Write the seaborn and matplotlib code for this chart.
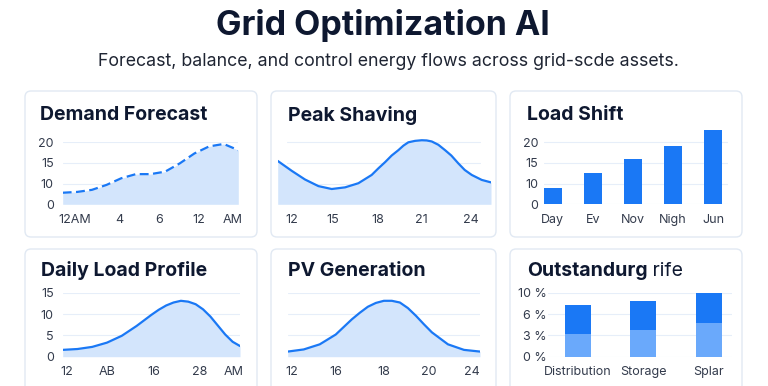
import matplotlib.pyplot as plt
import seaborn as sns
from matplotlib.patches import FancyBboxPatch

# %% data
demand_hours = [0, 2, 4, 6, 8, 10, 12, 14, 16, 18, 20, 22, 24]
demand_vals = [7.8, 8.0, 8.5, 9.7, 11.3, 12.3, 12.3, 12.9, 14.9, 17.3, 19.0, 19.6, 18.1]
demand_ticks = [1.7, 7.7, 13.2, 18.6, 23.2]
demand_ticklabels = ["12AM", "4", "6", "12", "AM"]

peak_hours = [11.06, 12.0, 12.89, 13.79, 14.68, 15.58, 16.47, 17.36, 17.81, 18.26,
              18.7, 19.15, 19.49, 19.82, 20.27, 20.72, 21.05, 21.39, 21.83, 22.28,
              22.7, 23.17, 23.6, 24.07, 24.74, 25.36]
peak_vals = [10.5, 8.1, 6.0, 4.4, 3.7, 4.1, 5.1, 7.1, 8.7, 10.2,
             11.8, 13.1, 14.2, 15.0, 15.35, 15.5, 15.45, 15.2, 14.4, 13.1,
             11.8, 9.9, 8.3, 7.1, 5.9, 5.3]
peak_ticks = [12, 14.75, 17.74, 20.72, 24.0]
peak_ticklabels = ["12", "15", "18", "21", "24"]

shift_cats = ["Day", "Ev", "Nov", "Nigh", "Jun"]
shift_vals = [8.9, 12.5, 16.0, 19.2, 22.9]

daily_hours = [0, 2, 4, 6, 8, 10, 12, 13, 14, 15, 16, 17, 18, 19, 20, 21, 22, 23, 24]
daily_vals = [1.6, 1.8, 2.3, 3.3, 4.9, 7.2, 9.8, 11.0, 12.0, 12.7, 13.1, 12.9, 12.3, 11.1,
              9.4, 7.3, 5.2, 3.5, 2.5]
daily_ticks = [0.54, 6.05, 12.27, 18.5, 23.1]
daily_ticklabels = ["12", "AB", "16", "28", "AM"]

pv_hours = [0, 2, 4, 6, 8, 9, 10, 11, 12, 13, 14, 15, 16, 17, 18, 20, 22, 24]
pv_vals = [1.2, 1.7, 2.9, 5.2, 8.75, 10.3, 11.7, 12.6, 13.1, 13.1, 12.7, 11.4, 9.6,
           7.6, 5.7, 2.9, 1.6, 1.2]
pv_ticks = [0.5, 6.03, 11.94, 17.55, 22.96]
pv_ticklabels = ["12", "16", "18", "20", "24"]

out_cats = ["Distribution", "Storage", "Splar"]
out_total = [7.3, 7.9, 9.0]
out_base = [3.2, 3.75, 4.8]
out_ticks = [0, 3, 6, 9]
out_ticklabels = ["0 %", "3 %", "6 %", "10 %"]

# %% style
BLUE = "#1a78f5"
LIGHT = "#6aa9fb"
FILL = "#d3e5fc"
GRID = "#e6eef9"
DARK = "#0e1830"
TICK = "#333b4c"

sns.set_theme(style="white")
plt.rcParams['font.family'] = ['Inter', 'DejaVu Sans']

W, H = 768, 386
fig = plt.figure(figsize=(W / 100, H / 100), dpi=100)
fig.patch.set_facecolor("white")


def card(x0, y0, x1, y1):
    p = FancyBboxPatch((x0 / 100, (H - y1) / 100), (x1 - x0) / 100, (y1 - y0) / 100,
                       boxstyle="round,pad=0,rounding_size=0.06",
                       transform=fig.dpi_scale_trans, facecolor="white",
                       edgecolor="#e1e9f3", linewidth=1, zorder=-1)
    fig.patches.append(p)


def panel(x0, x1, ytop, ybot):
    ax = fig.add_axes([x0 / W, 1 - ybot / H, (x1 - x0) / W, (ybot - ytop) / H])
    ax.set_facecolor("none")
    sns.despine(ax=ax, left=True, bottom=True)
    ax.tick_params(length=0, labelsize=9, labelcolor=TICK)
    return ax


def title(x, y, s):
    return fig.text(x / W, 1 - y / H, s, fontsize=14, fontweight="bold",
                    color=DARK, va="center", ha="left")


for cx0, cx1 in [(25, 257), (271, 496), (510, 742)]:
    card(cx0, 91, cx1, 237)
    card(cx0, 249, cx1, 400)

fig.text(383 / W, 1 - 25 / H, "Grid Optimization AI", fontsize=24.5, fontweight="bold",
         color=DARK, ha="center", va="center")
fig.text(388 / W, 1 - 61 / H,
         "Forecast, balance, and control energy flows across grid-scde assets.",
         fontsize=12.8, color="#1f2533", ha="center", va="center")

# %% Demand Forecast
title(40, 115, "Demand Forecast")
ax = panel(62.7, 238.3, 142.3, 204.3)
ax.fill_between(demand_hours, 5, demand_vals, color=FILL, lw=0)
sns.lineplot(x=demand_hours, y=demand_vals, ax=ax, color=BLUE, linewidth=1.6,
             linestyle=(0, (4, 2)))
ax.set_xlim(0, 24)
ax.set_ylim(5, 20)
for v in [5, 10, 15, 20]:
    ax.axhline(v, color=GRID, lw=0.8, zorder=0)
ax.set_yticks([5, 10, 15, 20], ["0", "10", "15", "20"])
ax.set_xticks(demand_ticks, demand_ticklabels)
ax.tick_params(axis="y", pad=6.5)
ax.tick_params(axis="x", pad=7)

# %% Peak Shaving
title(287.7, 115.5, "Peak Shaving")
ax = panel(277.7, 491, 139.0, 204.3)
ax.fill_between(peak_hours, 0, peak_vals, color=FILL, lw=0)
sns.lineplot(x=peak_hours, y=peak_vals, ax=ax, color=BLUE, linewidth=1.6)
ax.set_xlim(peak_hours[0], peak_hours[-1])
ax.set_ylim(0, 15.8)
for v in [0, 5, 10, 15]:
    ax.axhline(v, xmin=0.042, xmax=0.949, color=GRID, lw=0.8, zorder=0)
ax.set_yticks([])
ax.set_xticks(peak_ticks, peak_ticklabels)
ax.tick_params(axis="x", pad=7)

# %% Load Shift
title(526.7, 115, "Load Shift")
ax = panel(543.6, 727.7, 127.8, 204.3)
for v in [5, 10, 15, 20]:
    ax.axhline(v, color=GRID, lw=0.8, zorder=0)
sns.barplot(x=shift_cats, y=shift_vals, ax=ax, color=BLUE, saturation=1,
            width=0.45, linewidth=0, zorder=2)
ax.set_xlim(-0.23, 4.36)
ax.set_ylim(5, 23.5)
ax.set_yticks([5, 10, 15, 20], ["0", "10", "15", "20"])
ax.set_xlabel("")
ax.set_ylabel("")
ax.tick_params(axis="y", pad=3.8)
ax.tick_params(axis="x", pad=7)

# %% Daily Load Profile
title(40.7, 271, "Daily Load Profile")
ax = panel(62.7, 240, 292.7, 356.7)
ax.fill_between(daily_hours, 0, daily_vals, color=FILL, lw=0)
sns.lineplot(x=daily_hours, y=daily_vals, ax=ax, color=BLUE, linewidth=1.6)
ax.set_xlim(0, 24)
ax.set_ylim(0, 15)
for v in [0, 5, 10, 15]:
    ax.axhline(v, color=GRID, lw=0.8, zorder=0)
ax.set_yticks([0, 5, 10, 15], ["0", "5", "10", "15"])
ax.set_xticks(daily_ticks, daily_ticklabels)
ax.tick_params(axis="y", pad=6.5)
ax.tick_params(axis="x", pad=6.5)

# %% PV Generation
title(287.7, 271, "PV Generation")
ax = panel(287.7, 480, 292.7, 356.7)
ax.fill_between(pv_hours, 0, pv_vals, color=FILL, lw=0)
sns.lineplot(x=pv_hours, y=pv_vals, ax=ax, color=BLUE, linewidth=1.6)
ax.set_xlim(0, 24)
ax.set_ylim(0, 15)
for v in [0, 5, 10, 15]:
    ax.axhline(v, color=GRID, lw=0.8, zorder=0)
ax.set_yticks([])
ax.set_xticks(pv_ticks, pv_ticklabels)
ax.tick_params(axis="x", pad=6.5)

# %% Outstandurg rife
t1 = title(526.7, 271, "Outstandurg")
ax = panel(548.3, 731.7, 292.7, 356.7)
ax.annotate(" rife", xy=(1, 0), xycoords=t1, va="bottom", ha="left",
            fontsize=14, color=DARK)
for v in out_ticks:
    ax.axhline(v, color=GRID, lw=0.8, zorder=0)
sns.barplot(x=out_cats, y=out_total, ax=ax, color=BLUE, saturation=1,
            width=0.4, linewidth=0, zorder=2)
sns.barplot(x=out_cats, y=out_base, ax=ax, color=LIGHT, saturation=1,
            width=0.4, linewidth=0, zorder=3)
ax.set_xlim(-0.45, 2.35)
ax.set_ylim(0, 9)
ax.set_yticks(out_ticks, out_ticklabels)
ax.set_xlabel("")
ax.set_ylabel("")
ax.tick_params(axis="y", pad=1)
ax.tick_params(axis="x", pad=6.5)

fig.savefig("out.png", dpi=100)
